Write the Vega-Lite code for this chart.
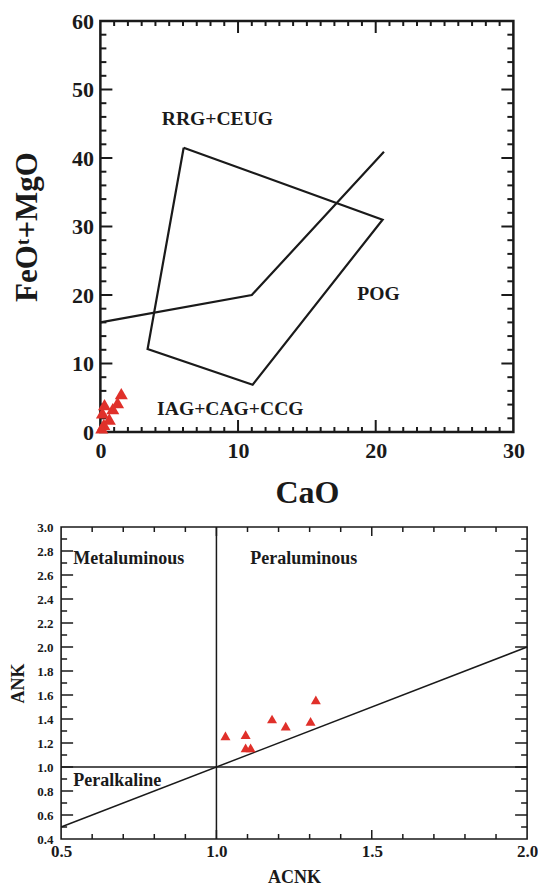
{
  "$schema": "https://vega.github.io/schema/vega-lite/v6.json",
  "background": "white",
  "padding": {"left": 9, "top": 8, "right": 0, "bottom": 0},
  "config": {
    "font": "Liberation Serif",
    "axis": {
      "grid": false,
      "domain": false,
      "ticks": false,
      "labelFont": "Liberation Serif",
      "titleFont": "Liberation Serif",
      "labelFontWeight": "bold",
      "titleFontWeight": "bold",
      "labelColor": "#1a1a1a",
      "titleColor": "#1a1a1a",
      "labelFlush": false,
      "labelOverlap": false
    },
    "tick": {"color": "#1a1a1a", "opacity": 1},
    "text": {"font": "Liberation Serif", "fontWeight": "bold", "color": "#1a1a1a"}
  },
  "datasets": {
    "samples": [
      {"CaO": 1.52, "FeOMgO": 5.6, "ACNK": 1.029, "ANK": 1.26},
      {"CaO": 1.25, "FeOMgO": 4.3, "ACNK": 1.094, "ANK": 1.27},
      {"CaO": 0.9, "FeOMgO": 3.4, "ACNK": 1.094, "ANK": 1.16},
      {"CaO": 0.3, "FeOMgO": 4.0, "ACNK": 1.11, "ANK": 1.16},
      {"CaO": 0.15, "FeOMgO": 2.8, "ACNK": 1.179, "ANK": 1.4},
      {"CaO": 0.65, "FeOMgO": 1.9, "ACNK": 1.223, "ANK": 1.34},
      {"CaO": 0.25, "FeOMgO": 1.1, "ACNK": 1.303, "ANK": 1.38},
      {"CaO": 0.1, "FeOMgO": 0.6, "ACNK": 1.32, "ANK": 1.56}
    ],
    "tectonic_bounds": [
      {"seg": "field", "ord": 0, "CaO": 6.05, "FeOMgO": 41.5},
      {"seg": "field", "ord": 1, "CaO": 20.5, "FeOMgO": 31.0},
      {"seg": "field", "ord": 2, "CaO": 11.06, "FeOMgO": 6.9},
      {"seg": "field", "ord": 3, "CaO": 3.43, "FeOMgO": 12.1},
      {"seg": "field", "ord": 4, "CaO": 6.05, "FeOMgO": 41.5},
      {"seg": "divider", "ord": 0, "CaO": 0, "FeOMgO": 16},
      {"seg": "divider", "ord": 1, "CaO": 11.0, "FeOMgO": 20.0},
      {"seg": "divider", "ord": 2, "CaO": 20.6, "FeOMgO": 40.9}
    ],
    "tectonic_labels": [
      {"CaO": 8.5, "FeOMgO": 45.7, "label": "RRG+CEUG"},
      {"CaO": 20.2, "FeOMgO": 20.1, "label": "POG"},
      {"CaO": 9.44, "FeOMgO": 3.4, "label": "IAG+CAG+CCG"}
    ],
    "cao_major": [{"CaO": 10}, {"CaO": 20}],
    "cao_minor": [
      {"CaO": 1}, {"CaO": 2}, {"CaO": 3}, {"CaO": 4}, {"CaO": 5}, {"CaO": 6}, {"CaO": 7}, {"CaO": 8}, {"CaO": 9},
      {"CaO": 11}, {"CaO": 12}, {"CaO": 13}, {"CaO": 14}, {"CaO": 15}, {"CaO": 16}, {"CaO": 17}, {"CaO": 18}, {"CaO": 19},
      {"CaO": 21}, {"CaO": 22}, {"CaO": 23}, {"CaO": 24}, {"CaO": 25}, {"CaO": 26}, {"CaO": 27}, {"CaO": 28}, {"CaO": 29}
    ],
    "femg_major": [{"FeOMgO": 10}, {"FeOMgO": 20}, {"FeOMgO": 30}, {"FeOMgO": 40}, {"FeOMgO": 50}],
    "femg_minor": [
      {"FeOMgO": 2}, {"FeOMgO": 4}, {"FeOMgO": 6}, {"FeOMgO": 8},
      {"FeOMgO": 12}, {"FeOMgO": 14}, {"FeOMgO": 16}, {"FeOMgO": 18},
      {"FeOMgO": 22}, {"FeOMgO": 24}, {"FeOMgO": 26}, {"FeOMgO": 28},
      {"FeOMgO": 32}, {"FeOMgO": 34}, {"FeOMgO": 36}, {"FeOMgO": 38},
      {"FeOMgO": 42}, {"FeOMgO": 44}, {"FeOMgO": 46}, {"FeOMgO": 48},
      {"FeOMgO": 52}, {"FeOMgO": 54}, {"FeOMgO": 56}, {"FeOMgO": 58}
    ],
    "alumina_bounds": [
      {"seg": "acnk1", "ord": 0, "ACNK": 1.0, "ANK": 0.4},
      {"seg": "acnk1", "ord": 1, "ACNK": 1.0, "ANK": 3.0},
      {"seg": "ank1", "ord": 0, "ACNK": 0.5, "ANK": 1.0},
      {"seg": "ank1", "ord": 1, "ACNK": 2.0, "ANK": 1.0},
      {"seg": "equal", "ord": 0, "ACNK": 0.5, "ANK": 0.5},
      {"seg": "equal", "ord": 1, "ACNK": 2.0, "ANK": 2.0}
    ],
    "alumina_labels": [
      {"ACNK": 0.539, "ANK": 2.73, "label": "Metaluminous"},
      {"ACNK": 1.109, "ANK": 2.73, "label": "Peraluminous"},
      {"ACNK": 0.539, "ANK": 0.883, "label": "Peralkaline"}
    ],
    "acnk_major": [{"ACNK": 1.0}, {"ACNK": 1.5}],
    "acnk_minor": [
      {"ACNK": 0.6}, {"ACNK": 0.7}, {"ACNK": 0.8}, {"ACNK": 0.9},
      {"ACNK": 1.1}, {"ACNK": 1.2}, {"ACNK": 1.3}, {"ACNK": 1.4},
      {"ACNK": 1.6}, {"ACNK": 1.7}, {"ACNK": 1.8}, {"ACNK": 1.9}
    ],
    "ank_major": [
      {"ANK": 0.6}, {"ANK": 0.8}, {"ANK": 1.0}, {"ANK": 1.2}, {"ANK": 1.4}, {"ANK": 1.6},
      {"ANK": 1.8}, {"ANK": 2.0}, {"ANK": 2.2}, {"ANK": 2.4}, {"ANK": 2.6}, {"ANK": 2.8}
    ],
    "ank_minor": [
      {"ANK": 0.5}, {"ANK": 0.7}, {"ANK": 0.9}, {"ANK": 1.1}, {"ANK": 1.3}, {"ANK": 1.5}, {"ANK": 1.7},
      {"ANK": 1.9}, {"ANK": 2.1}, {"ANK": 2.3}, {"ANK": 2.5}, {"ANK": 2.7}, {"ANK": 2.9}
    ]
  },
  "spacing": 10,
  "center": true,
  "vconcat": [
    {
      "width": 413,
      "height": 411,
      "view": {"stroke": "#1a1a1a", "strokeWidth": 2.5},
      "resolve": {"axis": {"y": "independent"}},
      "layer": [
        {
          "data": {"name": "tectonic_bounds"},
          "transform": [{"filter": "datum.seg === 'field'"}],
          "mark": {"type": "line", "color": "#1a1a1a", "strokeWidth": 2.2},
          "encoding": {
            "x": {"field": "CaO", "type": "quantitative", "scale": {"domain": [0, 30], "nice": false, "zero": false},
              "axis": {"orient": "bottom", "values": [0, 10, 20, 30], "labelFontSize": 22, "labelPadding": 8, "title": "CaO", "titleFontSize": 32, "titlePadding": 16}},
            "y": {"field": "FeOMgO", "type": "quantitative", "scale": {"domain": [0, 60], "nice": false, "zero": false},
              "axis": {"orient": "left", "values": [0, 10, 20, 30, 40, 50, 60], "labelFontSize": 22, "labelPadding": 7, "title": "FeOᵗ+MgO", "titleFontSize": 31, "titlePadding": 28}},
            "order": {"field": "ord"}
          }
        },
        {
          "data": {"name": "tectonic_bounds"},
          "transform": [{"filter": "datum.seg === 'divider'"}],
          "mark": {"type": "line", "color": "#1a1a1a", "strokeWidth": 2.2},
          "encoding": {
            "x": {"field": "CaO", "type": "quantitative", "scale": {"domain": [0, 30], "nice": false, "zero": false}},
            "y": {"field": "FeOMgO", "type": "quantitative", "scale": {"domain": [0, 60], "nice": false, "zero": false}, "axis": null},
            "order": {"field": "ord"}
          }
        },
        {
          "data": {"name": "cao_major"},
          "mark": {"type": "tick", "orient": "vertical", "size": 12, "thickness": 2, "yOffset": -6},
          "encoding": {
            "x": {"field": "CaO", "type": "quantitative", "scale": {"domain": [0, 30], "nice": false, "zero": false}},
            "y": {"datum": 0, "type": "quantitative", "scale": {"domain": [0, 60], "nice": false, "zero": false}, "axis": null}
          }
        },
        {
          "data": {"name": "cao_major"},
          "mark": {"type": "tick", "orient": "vertical", "size": 12, "thickness": 2, "yOffset": 6},
          "encoding": {
            "x": {"field": "CaO", "type": "quantitative", "scale": {"domain": [0, 30], "nice": false, "zero": false}},
            "y": {"datum": 60, "type": "quantitative", "scale": {"domain": [0, 60], "nice": false, "zero": false}, "axis": null}
          }
        },
        {
          "data": {"name": "cao_minor"},
          "mark": {"type": "tick", "orient": "vertical", "size": 5, "thickness": 2, "yOffset": -2.5},
          "encoding": {
            "x": {"field": "CaO", "type": "quantitative", "scale": {"domain": [0, 30], "nice": false, "zero": false}},
            "y": {"datum": 0, "type": "quantitative", "scale": {"domain": [0, 60], "nice": false, "zero": false}, "axis": null}
          }
        },
        {
          "data": {"name": "cao_minor"},
          "mark": {"type": "tick", "orient": "vertical", "size": 5, "thickness": 2, "yOffset": 2.5},
          "encoding": {
            "x": {"field": "CaO", "type": "quantitative", "scale": {"domain": [0, 30], "nice": false, "zero": false}},
            "y": {"datum": 60, "type": "quantitative", "scale": {"domain": [0, 60], "nice": false, "zero": false}, "axis": null}
          }
        },
        {
          "data": {"name": "femg_major"},
          "mark": {"type": "tick", "orient": "horizontal", "size": 12, "thickness": 2, "xOffset": 6},
          "encoding": {
            "x": {"datum": 0, "type": "quantitative", "scale": {"domain": [0, 30], "nice": false, "zero": false}},
            "y": {"field": "FeOMgO", "type": "quantitative", "scale": {"domain": [0, 60], "nice": false, "zero": false}, "axis": null}
          }
        },
        {
          "data": {"name": "femg_major"},
          "mark": {"type": "tick", "orient": "horizontal", "size": 12, "thickness": 2, "xOffset": -6},
          "encoding": {
            "x": {"datum": 30, "type": "quantitative", "scale": {"domain": [0, 30], "nice": false, "zero": false}},
            "y": {"field": "FeOMgO", "type": "quantitative", "scale": {"domain": [0, 60], "nice": false, "zero": false}, "axis": null}
          }
        },
        {
          "data": {"name": "femg_minor"},
          "mark": {"type": "tick", "orient": "horizontal", "size": 6, "thickness": 2, "xOffset": 3},
          "encoding": {
            "x": {"datum": 0, "type": "quantitative", "scale": {"domain": [0, 30], "nice": false, "zero": false}},
            "y": {"field": "FeOMgO", "type": "quantitative", "scale": {"domain": [0, 60], "nice": false, "zero": false}, "axis": null}
          }
        },
        {
          "data": {"name": "femg_minor"},
          "mark": {"type": "tick", "orient": "horizontal", "size": 6, "thickness": 2, "xOffset": -3},
          "encoding": {
            "x": {"datum": 30, "type": "quantitative", "scale": {"domain": [0, 30], "nice": false, "zero": false}},
            "y": {"field": "FeOMgO", "type": "quantitative", "scale": {"domain": [0, 60], "nice": false, "zero": false}, "axis": null}
          }
        },
        {
          "data": {"name": "tectonic_labels"},
          "mark": {"type": "text", "fontSize": 19.6, "align": "center", "baseline": "middle"},
          "encoding": {
            "x": {"field": "CaO", "type": "quantitative", "scale": {"domain": [0, 30], "nice": false, "zero": false}},
            "y": {"field": "FeOMgO", "type": "quantitative", "scale": {"domain": [0, 60], "nice": false, "zero": false}, "axis": null},
            "text": {"field": "label"}
          }
        },
        {
          "data": {"name": "samples"},
          "mark": {"type": "point", "shape": "triangle-up", "filled": true, "opacity": 1, "color": "#e0302a", "size": 170},
          "encoding": {
            "x": {"field": "CaO", "type": "quantitative", "scale": {"domain": [0, 30], "nice": false, "zero": false}},
            "y": {"field": "FeOMgO", "type": "quantitative", "scale": {"domain": [0, 60], "nice": false, "zero": false}, "axis": null}
          }
        }
      ]
    },
    {
      "width": 466,
      "height": 312,
      "view": {"stroke": "#1a1a1a", "strokeWidth": 1.6},
      "resolve": {"axis": {"y": "independent"}},
      "layer": [
        {
          "data": {"name": "alumina_bounds"},
          "mark": {"type": "line", "color": "#1a1a1a", "strokeWidth": 1.5},
          "encoding": {
            "x": {"field": "ACNK", "type": "quantitative", "scale": {"domain": [0.5, 2.0], "nice": false, "zero": false},
              "axis": {"orient": "bottom", "values": [0.5, 1.0, 1.5, 2.0], "format": ".1f", "labelFontSize": 17, "labelPadding": 4, "title": "ACNK", "titleFontSize": 18, "titlePadding": 9}},
            "y": {"field": "ANK", "type": "quantitative", "scale": {"domain": [0.4, 3.0], "nice": false, "zero": false},
              "axis": {"orient": "left", "values": [0.4, 0.6, 0.8, 1.0, 1.2, 1.4, 1.6, 1.8, 2.0, 2.2, 2.4, 2.6, 2.8, 3.0], "format": ".1f", "labelFontSize": 13, "labelPadding": 8, "title": "ANK", "titleFontSize": 18, "titlePadding": 9}},
            "detail": {"field": "seg"},
            "order": {"field": "ord"}
          }
        },
        {
          "data": {"name": "acnk_major"},
          "mark": {"type": "tick", "orient": "vertical", "size": 9, "thickness": 1.5, "yOffset": -4.5},
          "encoding": {
            "x": {"field": "ACNK", "type": "quantitative", "scale": {"domain": [0.5, 2.0], "nice": false, "zero": false}},
            "y": {"datum": 0.4, "type": "quantitative", "scale": {"domain": [0.4, 3.0], "nice": false, "zero": false}, "axis": null}
          }
        },
        {
          "data": {"name": "acnk_major"},
          "mark": {"type": "tick", "orient": "vertical", "size": 9, "thickness": 1.5, "yOffset": 4.5},
          "encoding": {
            "x": {"field": "ACNK", "type": "quantitative", "scale": {"domain": [0.5, 2.0], "nice": false, "zero": false}},
            "y": {"datum": 3.0, "type": "quantitative", "scale": {"domain": [0.4, 3.0], "nice": false, "zero": false}, "axis": null}
          }
        },
        {
          "data": {"name": "acnk_minor"},
          "mark": {"type": "tick", "orient": "vertical", "size": 5, "thickness": 1.5, "yOffset": -2.5},
          "encoding": {
            "x": {"field": "ACNK", "type": "quantitative", "scale": {"domain": [0.5, 2.0], "nice": false, "zero": false}},
            "y": {"datum": 0.4, "type": "quantitative", "scale": {"domain": [0.4, 3.0], "nice": false, "zero": false}, "axis": null}
          }
        },
        {
          "data": {"name": "acnk_minor"},
          "mark": {"type": "tick", "orient": "vertical", "size": 5, "thickness": 1.5, "yOffset": 2.5},
          "encoding": {
            "x": {"field": "ACNK", "type": "quantitative", "scale": {"domain": [0.5, 2.0], "nice": false, "zero": false}},
            "y": {"datum": 3.0, "type": "quantitative", "scale": {"domain": [0.4, 3.0], "nice": false, "zero": false}, "axis": null}
          }
        },
        {
          "data": {"name": "ank_major"},
          "mark": {"type": "tick", "orient": "horizontal", "size": 12, "thickness": 1.5, "xOffset": 6},
          "encoding": {
            "x": {"datum": 0.5, "type": "quantitative", "scale": {"domain": [0.5, 2.0], "nice": false, "zero": false}},
            "y": {"field": "ANK", "type": "quantitative", "scale": {"domain": [0.4, 3.0], "nice": false, "zero": false}, "axis": null}
          }
        },
        {
          "data": {"name": "ank_major"},
          "mark": {"type": "tick", "orient": "horizontal", "size": 12, "thickness": 1.5, "xOffset": -6},
          "encoding": {
            "x": {"datum": 2.0, "type": "quantitative", "scale": {"domain": [0.5, 2.0], "nice": false, "zero": false}},
            "y": {"field": "ANK", "type": "quantitative", "scale": {"domain": [0.4, 3.0], "nice": false, "zero": false}, "axis": null}
          }
        },
        {
          "data": {"name": "ank_minor"},
          "mark": {"type": "tick", "orient": "horizontal", "size": 6, "thickness": 1.5, "xOffset": 3},
          "encoding": {
            "x": {"datum": 0.5, "type": "quantitative", "scale": {"domain": [0.5, 2.0], "nice": false, "zero": false}},
            "y": {"field": "ANK", "type": "quantitative", "scale": {"domain": [0.4, 3.0], "nice": false, "zero": false}, "axis": null}
          }
        },
        {
          "data": {"name": "ank_minor"},
          "mark": {"type": "tick", "orient": "horizontal", "size": 6, "thickness": 1.5, "xOffset": -3},
          "encoding": {
            "x": {"datum": 2.0, "type": "quantitative", "scale": {"domain": [0.5, 2.0], "nice": false, "zero": false}},
            "y": {"field": "ANK", "type": "quantitative", "scale": {"domain": [0.4, 3.0], "nice": false, "zero": false}, "axis": null}
          }
        },
        {
          "data": {"name": "alumina_labels"},
          "mark": {"type": "text", "fontSize": 18, "align": "left", "baseline": "middle"},
          "encoding": {
            "x": {"field": "ACNK", "type": "quantitative", "scale": {"domain": [0.5, 2.0], "nice": false, "zero": false}},
            "y": {"field": "ANK", "type": "quantitative", "scale": {"domain": [0.4, 3.0], "nice": false, "zero": false},
              "axis": {"orient": "right", "ticks": true, "tickSize": 0, "labels": false, "title": null, "minExtent": 37, "maxExtent": 37}},
            "text": {"field": "label"}
          }
        },
        {
          "data": {"name": "samples"},
          "mark": {"type": "point", "shape": "triangle-up", "filled": true, "opacity": 1, "color": "#e0302a", "size": 100},
          "encoding": {
            "x": {"field": "ACNK", "type": "quantitative", "scale": {"domain": [0.5, 2.0], "nice": false, "zero": false}},
            "y": {"field": "ANK", "type": "quantitative", "scale": {"domain": [0.4, 3.0], "nice": false, "zero": false}, "axis": null}
          }
        }
      ]
    }
  ]
}
